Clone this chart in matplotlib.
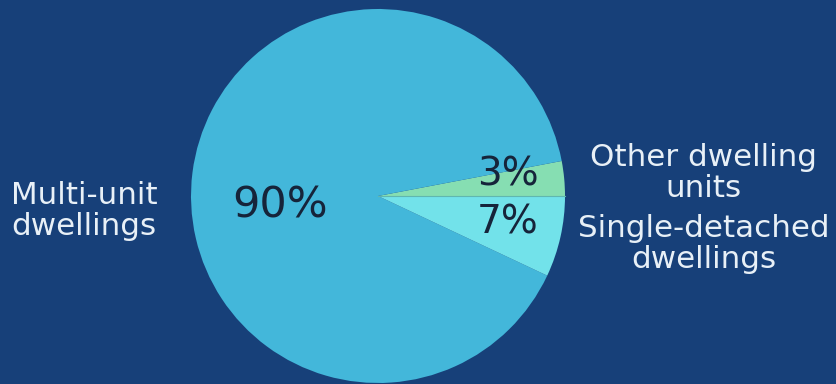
import matplotlib.pyplot as plt

# dwelling types, counter-clockwise from 3 o'clock
categories = ["Other dwelling\nunits", "Multi-unit\ndwellings", "Single-detached\ndwellings"]
shares = [3, 90, 7]
slice_colors = ["#86deb2", "#43b7da", "#72e2ea"]

BG = "#174079"
R_PX = 187.0
CX, CY = 378.0, 196.0
W, H = 836, 384

fig = plt.figure(figsize=(W / 100, H / 100), dpi=100, facecolor=BG)
ax = fig.add_axes([0, 0, 1, 1])
ax.set_facecolor(BG)

wedges, _ = ax.pie(shares, colors=slice_colors, startangle=0, counterclock=True,
                   radius=1.0, wedgeprops=dict(linewidth=0))

# thin seam between the two small slices
ax.plot([0, 1], [0, 0], color="#5fb7b0", lw=0.8, zorder=3)

def px(x, y):
    return (x - CX) / R_PX, (CY - y) / R_PX

ax.set_aspect("auto")
ax.set_xlim(-CX / R_PX, (W - CX) / R_PX)
ax.set_ylim((CY - H) / R_PX, CY / R_PX)
ax.axis("off")

pct_sizes = [28, 31, 28]
pct_pos = [(508, 185), (280, 217), (508, 233)]   # baseline positions
lab_pos = [(703, 173), (84, 211), (704, 244)]

for share, name, size, (pxx, pyy), (lxx, lyy) in zip(shares, categories, pct_sizes, pct_pos, lab_pos):
    ax.text(*px(pxx, pyy), f"{share}%", fontsize=size, color="#16243a",
            ha="center", va="baseline")
    ax.text(*px(lxx, lyy), name, fontsize=22.3, color="#e8f0f7",
            ha="center", va="center", linespacing=1.12)

fig.savefig("out.png", dpi=100, facecolor=BG)
